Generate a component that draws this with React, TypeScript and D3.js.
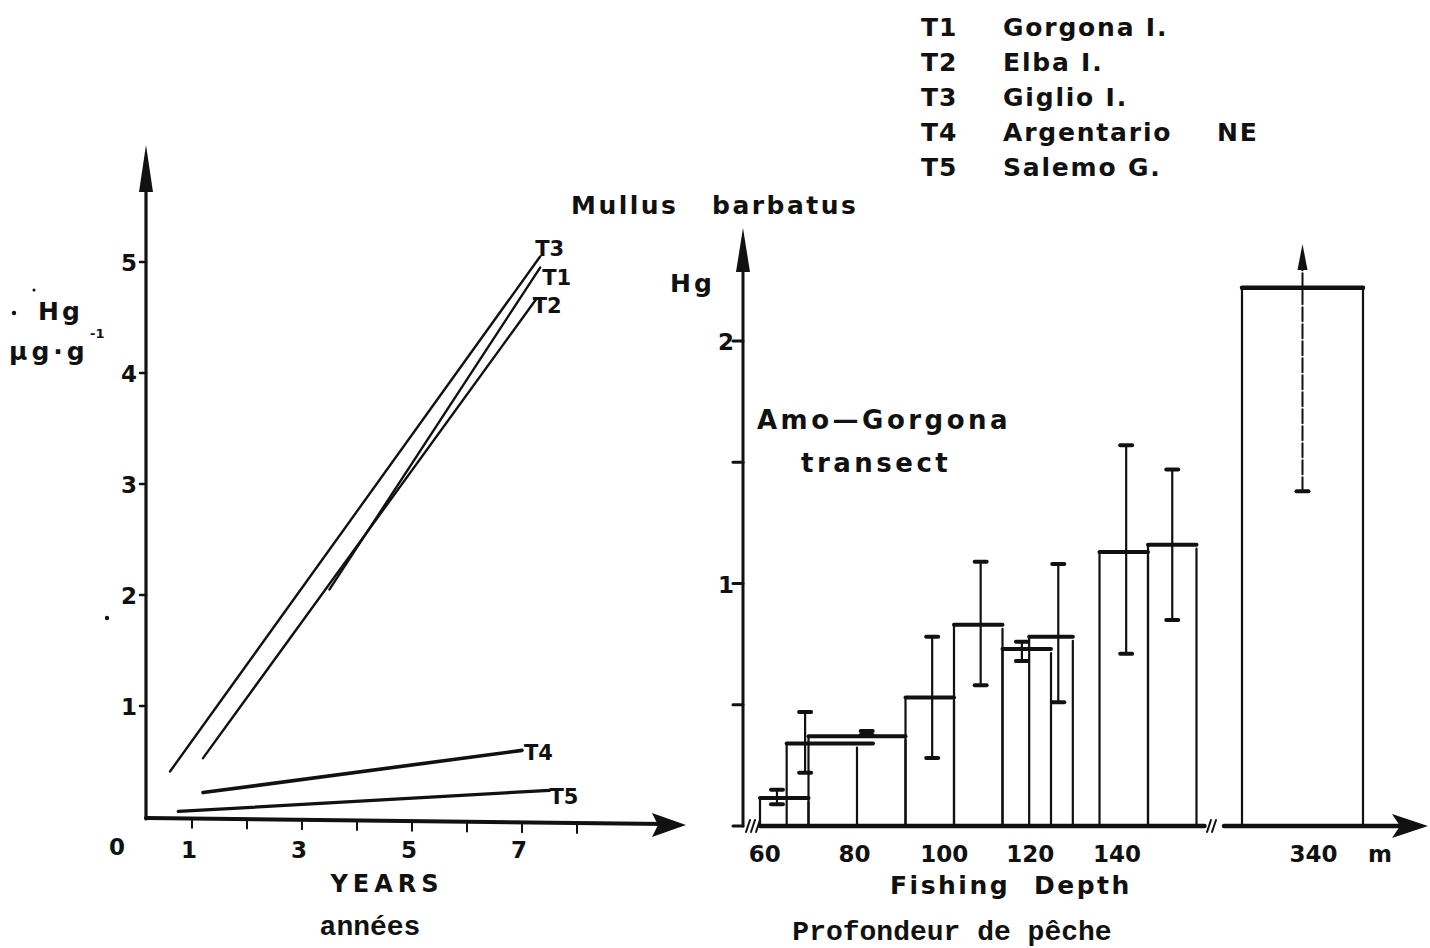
import React from "react";
import * as d3 from "d3";

// ---------- Left panel: Hg vs years ----------
const seriesIds = ["T1", "T2", "T3", "T4", "T5"];
const seriesStartYear = [3.5, 1.2, 0.6, 1.2, 0.75];
const seriesStartHg = [2.05, 0.53, 0.41, 0.22, 0.05];
const seriesEndYear = [7.33, 7.25, 7.33, 7.0, 7.5];
const seriesEndHg = [4.95, 4.66, 5.05, 0.6, 0.24];
const seriesWidth = [2.4, 2.4, 2.4, 3.6, 3.2];
const yearTicks = [1, 2, 3, 4, 5, 6, 7, 8];
const yearLabels = [1, 3, 5, 7];
const hgTicksLeft = [1, 2, 3, 4, 5];

// ---------- Legend ----------
const legendIds = ["T1", "T2", "T3", "T4", "T5"];
const legendNames = ["Gorgona I.", "Elba I.", "Giglio I.", "Argentario", "Salemo G."];
const legendSuffix = ["", "", "", "NE", ""];

// ---------- Right panel: Hg vs fishing depth ----------
const depthStart = [60, 65.5, 70, 90, 100, 110, 115.5, 130, 140];
const depthEnd = [70, 80, 90, 100, 110, 120, 124.5, 140, 150];
const topLineEnd = [70, 83.3, 90, 100, 110, 120, 124.5, 140, 150];
const meanHg = [0.115, 0.34, 0.37, 0.53, 0.83, 0.73, 0.78, 1.13, 1.16];
const errDepth = [63.5, 69.3, 82, 95.5, 105.5, 114, 121.5, 135.5, 145];
const errLow = [0.09, 0.22, 0.375, 0.28, 0.58, 0.68, 0.51, 0.71, 0.85];
const errHigh = [0.15, 0.47, 0.392, 0.78, 1.09, 0.76, 1.08, 1.57, 1.47];
const deepStart = 330;
const deepEnd = 350;
const deepMean = 2.22;
const deepErrLow = 1.38;
const deepErrArrow = 2.4;
const depthTickLabels = ["60", "80", "100", "120", "140"];
const depthTickAt = [61, 79.5, 98, 115.7, 133.6];
const hgTicksRight = [0.5, 1, 1.5, 2];
const hgLabelsRight = [1, 2];

const INK = "#111";
const SANS = "'DejaVu Sans', 'Liberation Sans', sans-serif";
const MONO = "'Liberation Mono', 'DejaVu Sans Mono', monospace";

export default function App() {
  const xL = d3.scaleLinear().domain([0, 8]).range([137, 577]);
  const yL = d3.scaleLinear().domain([0, 5]).range([817, 262]);
  const xR = d3.scaleLinear().domain([60, 150]).range([760, 1196.5]);
  const xR2 = d3.scaleLinear().domain([330, 350]).range([1242, 1363]);
  const yR = d3.scaleLinear().domain([0, 2]).range([826, 341]);
  const line = d3.line<[number, number]>().x((d) => xL(d[0])).y((d) => yL(d[1]));

  const labelOffsets: Record<string, [number, number]> = {
    T1: [2, 17],
    T2: [-3, 13],
    T3: [-5, 0],
    T4: [2, 10],
    T5: [0, 14],
  };

  const numStyle = { fontFamily: SANS, fontWeight: 700, fontSize: 23, fill: INK } as const;
  const txtStyle = { fontFamily: SANS, fontWeight: 700, fontSize: 25, fill: INK, stroke: "none" } as const;
  const monoStyle = { fontFamily: MONO, fontWeight: 700, fontSize: 28, fill: INK } as const;

  const yAxisL = 146;
  const yAxisR = 743;

  return (
    <svg
      width={1430}
      height={948}
      style={{ position: "absolute", left: 0, top: 0, background: "#fff" }}
      xmlns="http://www.w3.org/2000/svg"
    >
      <rect width={1430} height={948} fill="#fff" />

      {/* ===== Legend ===== */}
      {legendIds.map((id, i) => (
        <g key={id}>
          <text x={921} y={36 + i * 35} style={{ ...txtStyle, letterSpacing: 1 }}>{id}</text>
          <text x={1003} y={36 + i * 35} style={{ ...txtStyle, letterSpacing: 1.8 }}>{legendNames[i]}</text>
          {legendSuffix[i] && (
            <text x={1217} y={36 + i * 35} style={{ ...txtStyle, letterSpacing: 1.8 }}>{legendSuffix[i]}</text>
          )}
        </g>
      ))}
      <text x={571} y={214} style={{ ...txtStyle, letterSpacing: 2.5 }}>Mullus</text>
      <text x={712} y={214} style={{ ...txtStyle, letterSpacing: 2.5 }}>barbatus</text>

      {/* ===== Left panel ===== */}
      <g stroke={INK} fill="none" strokeLinecap="round">
        <line x1={yAxisL} y1={yL(0) + 2} x2={yAxisL} y2={185} strokeWidth={3.2} />
        <path d={`M${yAxisL},145 L${yAxisL - 7},192 L${yAxisL + 7},192 Z`} fill={INK} stroke="none" />
        <line x1={yAxisL} y1={yL(0) + 1} x2={665} y2={yL(0) + 7} strokeWidth={4} />
        <path d={`M686,${yL(0) + 8} L652,${yL(0) - 4} L658,${yL(0) + 8} L652,${yL(0) + 20} Z`} fill={INK} stroke="none" />
        {hgTicksLeft.map((t) => (
          <line key={t} x1={yAxisL - 6} x2={yAxisL} y1={yL(t)} y2={yL(t)} strokeWidth={2.5} />
        ))}
        {yearTicks.map((t) => (
          <line key={t} x1={xL(t)} x2={xL(t)} y1={yL(0) + 2 + t * 0.75} y2={yL(0) + 10 + t * 0.75} strokeWidth={2} />
        ))}
        {seriesIds.map((id, i) => (
          <path
            key={id}
            d={line([
              [seriesStartYear[i], seriesStartHg[i]],
              [seriesEndYear[i], seriesEndHg[i]],
            ]) as string}
            strokeWidth={seriesWidth[i]}
          />
        ))}
      </g>
      {seriesIds.map((id, i) => (
        <text
          key={id}
          x={xL(seriesEndYear[i]) + labelOffsets[id][0]}
          y={yL(seriesEndHg[i]) + labelOffsets[id][1]}
          style={{ ...numStyle, fontSize: 21 }}
        >
          {id}
        </text>
      ))}
      {hgTicksLeft.map((t) => (
        <text key={t} x={yAxisL - 9} y={yL(t) + 9} textAnchor="end" style={numStyle}>{t}</text>
      ))}
      <text x={117} y={855} textAnchor="middle" style={numStyle}>0</text>
      {yearLabels.map((t) => (
        <text key={t} x={xL(t) - 3} y={858} textAnchor="middle" style={numStyle}>{t}</text>
      ))}
      <text x={387} y={892} textAnchor="middle" style={{ ...txtStyle, fontSize: 24, letterSpacing: 5 }}>YEARS</text>
      <text x={370} y={935} textAnchor="middle" style={monoStyle}>années</text>
      <circle cx={14} cy={313} r={2.2} fill={INK} />
      <circle cx={34} cy={290} r={1.5} fill={INK} />
      <circle cx={107} cy={618} r={2.2} fill={INK} />
      <text x={38} y={320} style={{ ...txtStyle, letterSpacing: 3 }}>Hg</text>
      <text x={9} y={360} style={{ ...txtStyle, letterSpacing: 4 }}>µg·g</text>
      <text x={90} y={338} style={{ ...txtStyle, fontSize: 13 }}>-1</text>

      {/* ===== Right panel ===== */}
      <g stroke={INK} fill="none" strokeLinecap="round">
        <line x1={yAxisR} y1={yR(0)} x2={yAxisR} y2={262} strokeWidth={3} />
        <path d={`M${yAxisR},228 L${yAxisR - 7},272 L${yAxisR + 7},272 Z`} fill={INK} stroke="none" />
        {[0, ...hgTicksRight].map((t) => (
          <line key={t} x1={yAxisR - 10} x2={yAxisR} y1={yR(t)} y2={yR(t)} strokeWidth={3} />
        ))}
        {/* broken x-axis */}
        <line x1={xR(60)} y1={yR(0)} x2={xR(150) + 8} y2={yR(0)} strokeWidth={4.5} />
        {[0, 1, 2].map((k) => (
          <line key={k} x1={746 + k * 5} y1={yR(0) + 6} x2={750 + k * 5} y2={yR(0) - 6} strokeWidth={2} />
        ))}
        {[0, 1].map((k) => (
          <line key={k} x1={1207 + k * 5} y1={yR(0) + 6} x2={1211 + k * 5} y2={yR(0) - 6} strokeWidth={2} />
        ))}
        <line x1={1224} y1={yR(0)} x2={1400} y2={yR(0)} strokeWidth={4.5} />
        <path d={`M1428,${yR(0)} L1392,${yR(0) - 12} L1400,${yR(0)} L1392,${yR(0) + 12} Z`} fill={INK} stroke="none" />

        {/* bars */}
        {meanHg.map((v, i) => (
          <g key={i}>
            <line x1={xR(depthStart[i])} x2={xR(depthStart[i])} y1={yR(v)} y2={yR(0)} strokeWidth={2.2} />
            <line x1={xR(depthEnd[i])} x2={xR(depthEnd[i])} y1={yR(v) + 4} y2={yR(0)} strokeWidth={2.2} />
            <line x1={xR(depthStart[i])} x2={xR(topLineEnd[i])} y1={yR(v)} y2={yR(v)} strokeWidth={4} />
          </g>
        ))}
        {/* error bars */}
        {meanHg.map((v, i) => (
          <g key={i}>
            <line x1={xR(errDepth[i])} x2={xR(errDepth[i])} y1={yR(errLow[i])} y2={yR(errHigh[i])} strokeWidth={2.2} />
            <line x1={xR(errDepth[i]) - 6} x2={xR(errDepth[i]) + 6} y1={yR(errHigh[i])} y2={yR(errHigh[i])} strokeWidth={4} />
            <line x1={xR(errDepth[i]) - 6} x2={xR(errDepth[i]) + 6} y1={yR(errLow[i])} y2={yR(errLow[i])} strokeWidth={4} />
          </g>
        ))}
        {/* deep (340 m) bar */}
        <line x1={xR2(deepStart)} x2={xR2(deepStart)} y1={yR(deepMean)} y2={yR(0)} strokeWidth={2.2} />
        <line x1={xR2(deepEnd)} x2={xR2(deepEnd)} y1={yR(deepMean)} y2={yR(0)} strokeWidth={2.2} />
        <line x1={xR2(deepStart)} x2={xR2(deepEnd)} y1={yR(deepMean)} y2={yR(deepMean)} strokeWidth={4.5} />
        <line
          x1={xR2(340)}
          x2={xR2(340)}
          y1={yR(deepErrLow)}
          y2={yR(deepErrArrow) + 20}
          strokeWidth={2}
          strokeDasharray="14 3"
        />
        <line x1={xR2(340) - 6} x2={xR2(340) + 6} y1={yR(deepErrLow)} y2={yR(deepErrLow)} strokeWidth={4} />
        <path
          d={`M${xR2(340)},${yR(deepErrArrow)} L${xR2(340) - 5},${yR(deepErrArrow) + 26} L${xR2(340) + 5},${yR(deepErrArrow) + 26} Z`}
          fill={INK}
          stroke="none"
        />
      </g>
      {hgLabelsRight.map((t) => (
        <text key={t} x={yAxisR - 9} y={yR(t) + 9} textAnchor="end" style={numStyle}>{t}</text>
      ))}
      <text x={670} y={292} style={{ ...txtStyle, letterSpacing: 3 }}>Hg</text>
      {depthTickLabels.map((l, i) => (
        <text key={l} x={xR(depthTickAt[i])} y={862} textAnchor="middle" style={numStyle}>{l}</text>
      ))}
      <text x={xR2(341.8)} y={862} textAnchor="middle" style={numStyle}>340</text>
      <text x={1380} y={862} textAnchor="middle" style={numStyle}>m</text>
      <text x={890} y={894} style={{ ...txtStyle, letterSpacing: 2.5 }}>Fishing</text>
      <text x={1034} y={894} style={{ ...txtStyle, letterSpacing: 2.5 }}>Depth</text>
      <text x={952} y={940} textAnchor="middle" style={monoStyle}>Profondeur de pêche</text>
      <text x={757} y={429} style={{ ...txtStyle, fontSize: 26, letterSpacing: 3.5 }}>Amo—Gorgona</text>
      <text x={801} y={472} style={{ ...txtStyle, fontSize: 26, letterSpacing: 3.5 }}>transect</text>
    </svg>
  );
}
